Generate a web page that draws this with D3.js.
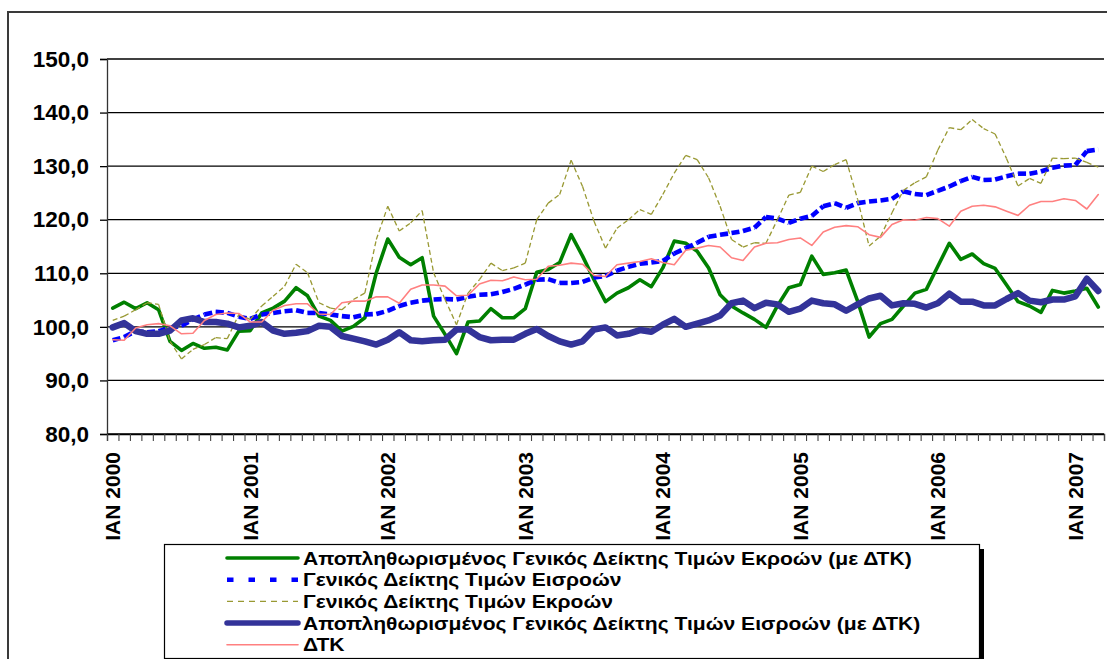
<!DOCTYPE html>
<html lang="el">
<head>
<meta charset="UTF-8">
<script src="https://d3js.org/d3.v7.min.js"></script>
<title>Δείκτες Τιμών</title>
<style>
  body { margin: 0; background: #fff; }
  svg { display: block; font-family: "Liberation Sans", Arial, sans-serif; font-weight: bold; }
</style>
</head>
<body>
<div id="chart"></div>
<script>
// months Jan 2000 - Mar 2007
const months = d3.timeMonth.range(new Date(2000, 0, 1), new Date(2007, 3, 1));
const tickLabels = ["ΙΑΝ 2000", "ΙΑΝ 2001", "ΙΑΝ 2002", "ΙΑΝ 2003", "ΙΑΝ 2004", "ΙΑΝ 2005", "ΙΑΝ 2006", "ΙΑΝ 2007"];
const yTicks = [80, 90, 100, 110, 120, 130, 140, 150];

const seriesNames = [
  "Αποπληθωρισμένος Γενικός Δείκτης Τιμών Εκροών (με ΔΤΚ)",
  "Γενικός Δείκτης Τιμών Εισροών",
  "Γενικός Δείκτης Τιμών Εκροών",
  "Αποπληθωρισμένος Γενικός Δείκτης Τιμών Εισροών (με ΔΤΚ)",
  "ΔΤΚ"
];

const deflOutput = [103.5, 104.6, 103.4, 104.5, 103.2, 97.3, 95.6, 96.9, 96.0, 96.2, 95.7, 99.2,
  99.3, 102.6, 103.5, 104.8, 107.3, 105.8, 102.0, 101.2, 99.2, 100.1, 101.7, 110.1,
  116.4, 113.0, 111.6, 112.9, 102.0, 98.6, 95.0, 100.9, 101.1, 103.4, 101.7, 101.7,
  103.4, 110.2, 110.7, 112.0, 117.2, 113.2, 108.8, 104.7, 106.3, 107.3, 108.8, 107.5,
  111.0, 116.0, 115.6, 114.1, 111.0, 106.0, 103.9, 102.6, 101.4, 99.9, 103.9, 107.3,
  107.9, 113.2, 109.8, 110.1, 110.6, 104.8, 98.1, 100.6, 101.4, 103.9, 106.3, 107.0,
  111.3, 115.6, 112.6, 113.6, 111.8, 110.9, 107.8, 104.7, 103.9, 102.7, 106.8, 106.3,
  106.7, 107.2, 103.7];

const inputIdx = [97.5, 98.1, 99.2, 99.0, 99.2, 99.8, 100.2, 101.4, 102.3, 102.8, 102.6, 101.9,
  101.5, 102.3, 102.6, 102.9, 103.1, 102.6, 102.6, 102.3, 102.0, 101.8, 102.3, 102.4,
  103.0, 103.9, 104.5, 104.9, 105.1, 105.2, 105.1, 105.6, 106.0, 106.1, 106.5, 107.1,
  107.9, 108.8, 108.9, 108.2, 108.2, 108.4, 109.2, 109.5, 110.5, 111.2, 111.8, 112.0,
  112.3, 113.7, 114.7, 115.7, 116.8, 117.2, 117.5, 117.9, 118.5, 120.5, 120.2, 119.4,
  120.2, 120.7, 122.5, 123.1, 122.2, 123.1, 123.4, 123.6, 123.9, 125.3, 124.8, 124.6,
  125.4, 126.2, 127.2, 128.0, 127.4, 127.5, 128.1, 128.6, 128.6, 129.0, 129.7, 130.1,
  130.2, 132.8, 133.1];

const outputIdx = [101.2, 102.0, 103.2, 104.5, 104.2, 97.3, 94.0, 95.8, 96.7, 98.0, 97.8, 102.3,
  101.4, 103.9, 105.7, 107.6, 111.7, 110.1, 104.5, 103.5, 103.2, 105.1, 106.3, 116.3,
  122.5, 117.9, 119.4, 121.7, 110.1, 105.1, 100.4, 106.3, 108.8, 111.9, 110.5, 111.0,
  111.9, 120.0, 123.1, 124.7, 131.1, 126.2, 119.7, 114.7, 118.4, 120.0, 121.9, 121.0,
  124.7, 128.7, 132.0, 131.2, 127.8, 122.5, 116.3, 114.9, 115.7, 115.6, 120.0, 124.6,
  125.1, 130.0, 129.0, 130.3, 131.2, 123.8, 115.1, 116.9, 121.3, 125.5, 126.9, 128.0,
  133.0, 137.2, 136.8, 138.7, 137.0, 136.0, 131.4, 126.3, 127.7, 126.8, 131.5, 131.4,
  131.5, 130.7, 129.8];

const deflInput = [99.9, 100.7, 99.2, 98.7, 98.7, 99.3, 101.2, 101.6, 100.9, 100.9, 100.6, 99.9,
  100.2, 100.9, 99.3, 98.7, 98.9, 99.2, 100.2, 100.0, 98.3, 97.8, 97.3, 96.7,
  97.6, 99.0, 97.5, 97.3, 97.5, 97.6, 99.5, 99.5, 98.1, 97.5, 97.6, 97.6,
  98.7, 99.6, 98.3, 97.3, 96.7, 97.3, 99.5, 99.9, 98.4, 98.7, 99.4, 99.1,
  100.4, 101.5, 100.0, 100.6, 101.2, 102.1, 104.4, 104.9, 103.5, 104.5, 104.2, 102.8,
  103.4, 104.9, 104.4, 104.2, 103.0, 104.2, 105.3, 105.8, 104.0, 104.4, 104.3, 103.6,
  104.4, 106.2, 104.7, 104.7, 104.0, 104.0, 105.2, 106.3, 104.9, 104.6, 105.1, 105.1,
  105.7, 109.0, 106.7];

const cpi = [97.6, 97.5, 99.8, 100.4, 100.6, 100.2, 98.7, 98.8, 101.2, 102.3, 102.6, 102.5,
  100.9, 100.9, 103.1, 104.0, 104.3, 104.3, 102.4, 102.3, 104.5, 104.8, 104.8, 105.6,
  105.6, 104.4, 107.0, 107.8, 107.8, 107.6, 105.8, 105.9, 108.0, 108.7, 108.6, 109.3,
  108.8, 108.9, 111.3, 111.5, 111.9, 111.7, 109.6, 109.4, 111.6, 111.9, 112.2, 112.7,
  112.0, 111.6, 114.3, 114.7, 115.2, 114.9, 112.9, 112.4, 114.9, 115.6, 115.7, 116.3,
  116.6, 115.2, 117.7, 118.6, 118.9, 118.7, 117.2, 116.7, 119.1, 120.0, 119.9, 120.4,
  120.2, 118.8, 121.6, 122.5, 122.7, 122.4, 121.6, 120.8, 122.7, 123.4, 123.4, 123.9,
  123.6, 122.0, 124.7];

// line styles, same order as the legend
const styles = [
  { color: "#008000", width: 3.6, dash: null, legendDash: null },
  { color: "#0000ff", width: 4.6, dash: "8,3.5", legendDash: "6.5,15" },
  { color: "#999933", width: 1.3, dash: "5,3", legendDash: "6,5" },
  { color: "#333399", width: 6.5, dash: null, legendDash: null },
  { color: "#ff8080", width: 1.6, dash: null, legendDash: null }
];
const seriesValues = [deflOutput, inputIdx, outputIdx, deflInput, cpi];

const margin = { top: 59, right: 3, bottom: 225, left: 107 },
  W = 1107, H = 659,
  width = W - margin.left - margin.right,
  height = H - margin.top - margin.bottom;

const root = d3.select("#chart").append("svg")
  .attr("width", W)
  .attr("height", H);

// outer chart frame
root.append("rect")
  .attr("x", 8).attr("y", 12)
  .attr("width", 1130).attr("height", 680)
  .attr("fill", "none")
  .attr("stroke", "#3a3a3a")
  .attr("stroke-width", 2);

const svg = root.append("g")
  .attr("transform", `translate(${margin.left},${margin.top})`);

const x = d3.scaleBand()
  .domain(months)
  .range([0, width]);
const xi = d3.scaleLinear().domain([0, months.length]).range([0, width]);
const y = d3.scaleLinear().domain([80, 150]).range([height, 0]);

// gridlines
svg.append("g")
  .selectAll("line")
  .data(yTicks)
  .join("line")
  .attr("x1", 0).attr("x2", width)
  .attr("y1", d => y(d)).attr("y2", d => y(d))
  .attr("stroke", "#000")
  .attr("stroke-width", 1.3);

// y axis
const yAxis = svg.append("g")
  .call(d3.axisLeft(y).tickValues(yTicks).tickSize(7).tickPadding(11)
    .tickFormat(d => d3.format(".1f")(d).replace(".", ",")));
yAxis.select(".domain").attr("stroke", "#333").attr("stroke-width", 1.3);
yAxis.selectAll(".tick line").attr("stroke-width", 1.3);
yAxis.selectAll("text")
  .attr("font-size", 22.5)
  .attr("font-weight", "bold")
  .attr("font-family", "Liberation Sans, Arial, sans-serif")
  .attr("fill", "#000");

// x axis (ticks between months)
const xAxis = svg.append("g")
  .attr("transform", `translate(0,${height})`)
  .call(d3.axisBottom(xi).tickValues(d3.range(months.length + 1)).tickSize(7).tickFormat(""));
xAxis.select(".domain").attr("stroke", "#000").attr("stroke-width", 1.3);
xAxis.selectAll(".tick line").attr("stroke", "#444").attr("stroke-width", 1.1);

const janMonths = months.filter(d => d.getMonth() === 0);
svg.append("g")
  .selectAll("text")
  .data(janMonths)
  .join("text")
  .attr("transform", d => `translate(${x(d) + x.bandwidth() / 2},${height + 18}) rotate(-90)`)
  .attr("text-anchor", "end")
  .attr("dy", "0.36em")
  .attr("font-size", 21)
  .attr("font-weight", "bold")
  .text((d, i) => tickLabels[i]);

// series
const line = d3.line()
  .x(d => x(d[0]) + x.bandwidth() / 2)
  .y(d => y(d[1]));

seriesValues.forEach((vals, s) => {
  const pts = vals.map((v, i) => [months[i], v]);
  const st = styles[s];
  const g = svg.append("g")
    .attr("fill", "none")
    .attr("stroke", st.color)
    .attr("stroke-width", st.width);
  if (st.dash) {
    // dash pattern restarts on every segment
    g.selectAll("path")
      .data(d3.pairs(pts))
      .join("path")
      .attr("d", d => line(d))
      .attr("stroke-dasharray", st.dash);
  } else {
    g.append("path")
      .datum(pts)
      .attr("d", line)
      .attr("stroke-linejoin", "round")
      .attr("stroke-linecap", "round");
  }
});

// legend
const lg = root.append("g").attr("transform", "translate(164,544)");
lg.append("rect")
  .attr("x", 5).attr("y", 5)
  .attr("width", 815).attr("height", 114)
  .attr("fill", "#000");
lg.append("rect")
  .attr("x", 0.5).attr("y", 0.5)
  .attr("width", 815).attr("height", 114)
  .attr("fill", "#fff")
  .attr("stroke", "#000")
  .attr("stroke-width", 1.2);

const rows = lg.selectAll("g.row")
  .data(seriesNames)
  .join("g")
  .attr("class", "row")
  .attr("transform", (d, i) => `translate(0,${14 + i * 21.7})`);

rows.append("line")
  .attr("x1", 63).attr("x2", 134)
  .attr("y1", 0).attr("y2", 0)
  .attr("stroke", (d, i) => styles[i].color)
  .attr("stroke-width", (d, i) => Math.min(styles[i].width, 5.5))
  .attr("stroke-linecap", (d, i) => styles[i].legendDash ? "butt" : "round")
  .attr("stroke-dasharray", (d, i) => styles[i].legendDash);

const labels = rows.append("text")
  .attr("x", 0)
  .attr("dy", "0.36em")
  .attr("font-size", 18.5)
  .attr("font-weight", "bold")
  .text(d => d);

// stretch legend text to the width it has in the original
const w0 = labels.nodes()[0].getComputedTextLength();
const sx = 609 / w0;
labels.attr("transform", `translate(139,0) scale(${sx},1)`);
</script>
</body>
</html>
